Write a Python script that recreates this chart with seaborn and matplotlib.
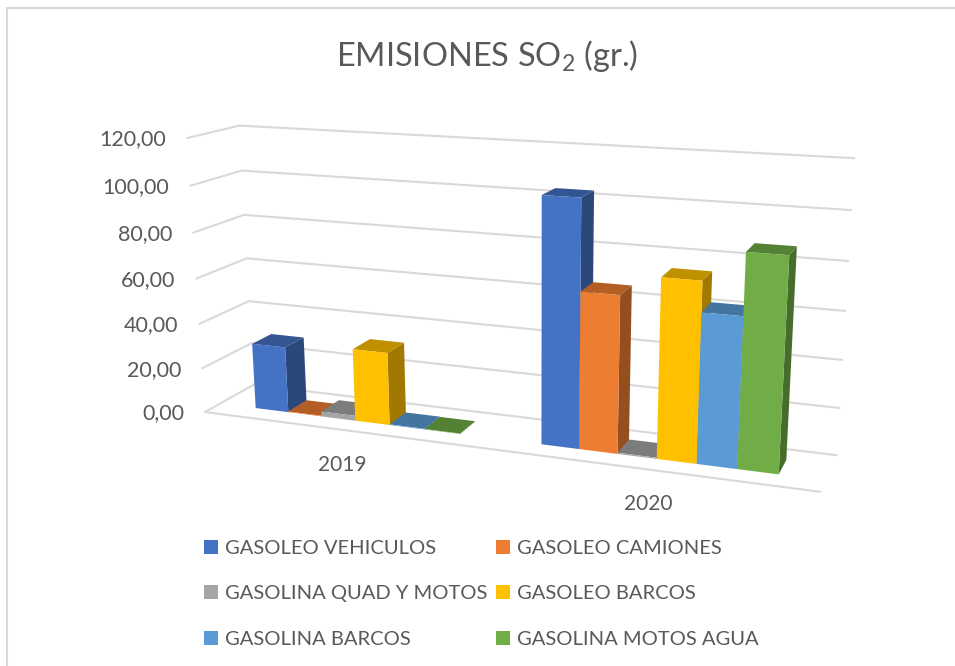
import numpy as np
import pandas as pd
import seaborn as sns
import matplotlib.pyplot as plt
from matplotlib.lines import Line2D
from matplotlib.patches import Polygon
from matplotlib.transforms import IdentityTransform, Transform

# Data
YEARS = ["2019", "2020"]
SERIES = [
    "GASOLEO VEHICULOS",
    "GASOLEO CAMIONES",
    "GASOLINA QUAD Y MOTOS",
    "GASOLEO BARCOS",
    "GASOLINA BARCOS",
    "GASOLINA MOTOS AGUA",
]
GASOLEO_VEHICULOS = [29.5, 103.5]
GASOLEO_CAMIONES = [0.3, 66.0]
GASOLINA_QUAD = [2.2, 0.5]
GASOLEO_BARCOS = [32.0, 74.5]
GASOLINA_BARCOS = [0.3, 62.0]
GASOLINA_MOTOS = [0.2, 87.0]
TICKS = [0, 20, 40, 60, 80, 100, 120]
TICK_LABELS = ["0,00", "20,00", "40,00", "60,00", "80,00", "100,00", "120,00"]
COLORS = ["#4472C4", "#ED7D31", "#A5A5A5", "#FFC000", "#5B9BD5", "#70AD47"]

W, H = 955, 666
TEXT = "#595959"
GRID = "#D9D9D9"
# Depth of the bars inside the floor, 0 is the front edge, 1 the back wall
Z_FRONT, Z_BACK = 0.3, 0.7

# Pixel positions of the box corners, from 0 up to 120, used to fit the camera
LEFT_FRONT = [(205, 412), (202, 368), (199, 324), (196, 279), (193, 233), (191, 186), (187, 138)]
LEFT_BACK = [(253, 385), (252, 343), (249, 301), (247, 258), (244, 215), (242, 171), (239, 125)]
RIGHT_BACK = [(837, 456), (839, 408), (842, 360), (845, 311), (848, 261), (852, 210), (854, 158)]
RIGHT_FRONT_FLOOR = (821, 491)


def fit_camera():
    rows, targets = [], []
    points = []
    for v, lf, lb, rb in zip(TICKS, LEFT_FRONT, LEFT_BACK, RIGHT_BACK):
        points += [((0, v, 0), lf), ((0, v, 1), lb), ((2, v, 1), rb)]
    points.append(((2, 0, 0), RIGHT_FRONT_FLOOR))
    for (x, v, z), (u, t) in points:
        t = H - t
        rows.append([x, v, z, 1, 0, 0, 0, 0, -u * x, -u * v, -u * z])
        targets.append(u)
        rows.append([0, 0, 0, 0, x, v, z, 1, -t * x, -t * v, -t * z])
        targets.append(t)
    p = np.linalg.lstsq(np.array(rows, float), np.array(targets, float), rcond=None)[0]
    return np.append(p, 1).reshape(3, 4)


CAMERA = fit_camera()


def project(x, v, z):
    # x is in the categorical units of the bar plot, -0.5 to 1.5
    x, v = np.asarray(x, float), np.asarray(v, float)
    pts = np.stack([x + 0.5, v, np.full_like(x, z), np.ones_like(x)], axis=-1)
    out = pts @ CAMERA.T
    return out[..., :2] / out[..., 2:]


class DepthPlane(Transform):
    """Sends (category, value) of one depth plane of the box to display pixels."""

    input_dims = output_dims = 2

    def __init__(self, z):
        super().__init__()
        self.z = z

    def transform_non_affine(self, values):
        values = np.asarray(values)
        return project(values[:, 0], values[:, 1], self.z)


sns.set_theme(style="white")
plt.rcParams["font.family"] = ["Lato", "DejaVu Sans"]
plt.rcParams["mathtext.default"] = "regular"

df = pd.DataFrame(
    {
        "year": YEARS * 6,
        "series": np.repeat(SERIES, 2),
        "value": GASOLEO_VEHICULOS + GASOLEO_CAMIONES + GASOLINA_QUAD
        + GASOLEO_BARCOS + GASOLINA_BARCOS + GASOLINA_MOTOS,
    }
)

fig = plt.figure(figsize=(W / 100, H / 100), dpi=100)
ax = fig.add_axes([0, 0, 1, 1])
sns.barplot(
    data=df, x="year", y="value", hue="series", palette=COLORS, saturation=1,
    width=0.73, linewidth=0, errorbar=None, ax=ax,
)
handles, labels = ax.get_legend_handles_labels()
ax.set_axis_off()

front = DepthPlane(Z_FRONT)
bars = [(bar, c) for cont, c in zip(ax.containers, COLORS) for bar in cont]
bars.sort(key=lambda item: item[0].get_x())


def shade(color, k):
    return tuple(k * np.array(plt.matplotlib.colors.to_rgb(color)))


for i, (bar, color) in enumerate(bars):
    x0, x1 = bar.get_x(), bar.get_x() + bar.get_width()
    v = bar.get_height()
    top = [project(x0, v, Z_FRONT), project(x1, v, Z_FRONT),
           project(x1, v, Z_BACK), project(x0, v, Z_BACK)]
    side = [project(x1, 0, Z_FRONT), project(x1, v, Z_FRONT),
            project(x1, v, Z_BACK), project(x1, 0, Z_BACK)]
    for verts, k in ((side, 0.63), (top, 0.75)):
        ax.add_patch(Polygon(np.array(verts), closed=True, facecolor=shade(color, k),
                             edgecolor="none", transform=IdentityTransform(),
                             clip_on=False, zorder=5 + i))
    bar.set_transform(front)
    bar.set_clip_on(False)
    bar.set_zorder(5.5 + i)

# Walls and floor
for v in TICKS:
    for a, b in (((-0.5, v, 0), (-0.5, v, 1)), ((-0.5, v, 1), (1.5, v, 1))):
        pa, pb = project(a[0], a[1], a[2]), project(b[0], b[1], b[2])
        ax.add_line(Line2D([pa[0], pb[0]], [pa[1], pb[1]], color=GRID, lw=1.5,
                           transform=IdentityTransform(), clip_on=False, zorder=1))
pa, pb = project(-0.5, 0, 0), project(1.5, 0, 0)
ax.add_line(Line2D([pa[0], pb[0]], [pa[1], pb[1]], color=GRID, lw=1.5,
                   transform=IdentityTransform(), clip_on=False, zorder=1))

for v, label in zip(TICKS, TICK_LABELS):
    ax.annotate(label, xy=(-0.5, v), xycoords=DepthPlane(0), xytext=(-15, -1),
                textcoords="offset points", ha="right", va="center",
                fontsize=15.5, color=TEXT)
for i, year in enumerate(YEARS):
    ax.annotate(year, xy=(i, 0), xycoords=DepthPlane(0), xytext=(0, -25),
                textcoords="offset points", ha="center", va="center",
                fontsize=15, color=TEXT)

fig.text(487 / W, 1 - 56 / H, "EMISIONES SO$_2$ (gr.)", ha="center", va="center",
         fontsize=23.5, color=TEXT)

# Legend fills row by row in the picture, matplotlib fills column by column
order = [0, 2, 4, 1, 3, 5]
ax.legend(
    [handles[i] for i in order], [labels[i] for i in order], ncols=2,
    loc="upper left", bbox_to_anchor=(203.5 / W, 1 - 540 / H), bbox_transform=fig.transFigure,
    frameon=False, fontsize=14.5, labelcolor=TEXT, handlelength=0.7, handleheight=0.7,
    handletextpad=0.35, columnspacing=0.45, labelspacing=1.4, borderpad=0, borderaxespad=0,
)

# Chart frame, only the top and left edges are in the crop
fig.add_artist(Line2D([7 / W, 7 / W], [0, 1 - 8 / H], color=GRID, lw=1.5))
fig.add_artist(Line2D([7 / W, 1], [1 - 8 / H, 1 - 8 / H], color=GRID, lw=1.5))

fig.savefig("out.png", dpi=100)
